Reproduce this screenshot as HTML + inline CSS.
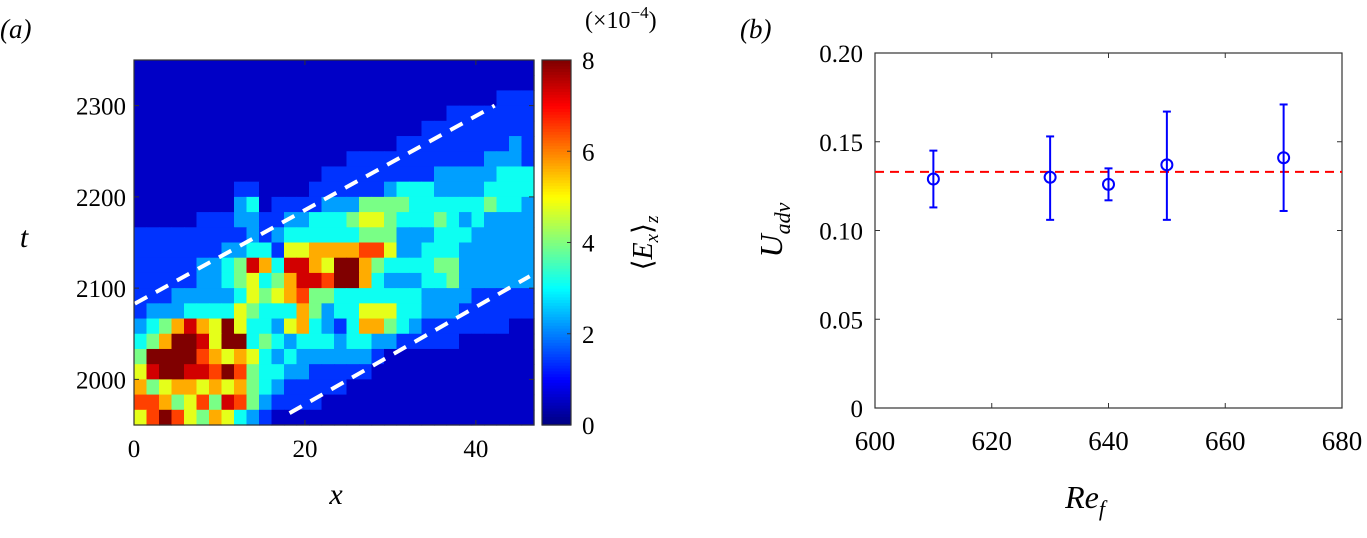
<!DOCTYPE html>
<html><head><meta charset="utf-8"><style>
body{margin:0;background:#fff;}
svg, svg text, svg tspan{font-family:"Liberation Serif","Times New Roman","DejaVu Serif",serif !important;}
</style></head><body>
<svg id="fig" width="1367" height="533" viewBox="0 0 1367 533" font-family="Liberation Serif, serif">
<text x="0" y="38" font-size="27" font-style="italic">(a)</text>
<text x="740" y="38" font-size="27" font-style="italic">(b)</text>
<g id="heat"></g>
<g id="axA"></g>
<g id="cbar"></g>
<g id="axB"></g>
</svg>
<script>
// ---- Panel (a) data ----
const heatRows = [
"00000000000000000000000000000000",
"00000000000000000000000000000000",
"00000000000000000000000000000111",
"00000000000000000000000001111111",
"00000000000000000000000111111111",
"00000000000000000000011111111121",
"00000000000000000111111111112221",
"00000000000000011111111122222333",
"00000000110000111111233322223333",
"00000000230111122244443333334332",
"00000111221122333455433343232222",
"11111111121233333344422233322222",
"11111112233155666677522333222222",
"11111223486388659964333344222222",
"11111223453468879963222334222222",
"11122222354567443333333222211111",
"12223333543336423355533222111111",
"23468659533256321366432111111100",
"34699859934323332332211111000000",
"49999765653232222221000000000000",
"58998879743322111110000000000000",
"64566565643211111000000000000000",
"77645748742111100000000000000000",
"57975465321000000000000000000000"
];
const xRange = [0, 46.8];
const tRange = [1950, 2350];
const xTicks = [0, 20, 40];
const tTicks = [2000, 2100, 2200, 2300];
const cbTicks = [0, 2, 4, 6, 8];
const upperLineX = [0.1, 42.2];
const upperLineT = [2083, 2300];
const lowerLineX = [18.2, 46.3];
const lowerLineT = [1963, 2113];
// ---- Panel (b) data ----
const reVals = [610, 630, 640, 650, 670];
const uVals = [0.129, 0.130, 0.126, 0.137, 0.141];
const uHigh = [0.145, 0.153, 0.135, 0.167, 0.171];
const uLow = [0.113, 0.106, 0.117, 0.106, 0.111];
const uMean = [0.133];
const reTicks = [600, 620, 640, 660, 680];
const uTicks = [0, 0.05, 0.10, 0.15, 0.20];
const uTickLabels = ["0", "0.05", "0.10", "0.15", "0.20"];

const NS = "http://www.w3.org/2000/svg";
const SERIF = '"Liberation Serif", serif';
function mk(tag, attrs, parent, txt){const e=document.createElementNS(NS,tag);for(const k in attrs)e.setAttribute(k,attrs[k]);if(tag==='text')e.setAttribute('font-family',SERIF);if(txt!==undefined)e.textContent=txt;parent.appendChild(e);return e;}
function jet(v){v=Math.max(0,Math.min(1,v));
 const r=Math.max(0,Math.min(1,1.5-Math.abs(4*v-3))),g=Math.max(0,Math.min(1,1.5-Math.abs(4*v-2))),b=Math.max(0,Math.min(1,1.5-Math.abs(4*v-1)));
 return `rgb(${Math.round(r*255)},${Math.round(g*255)},${Math.round(b*255)})`;}

// panel a axes
const AL=134,AR=534,AT=60,AB=425;
const sx=x=>AL+(x-xRange[0])/(xRange[1]-xRange[0])*(AR-AL);
const st=t=>AB-(t-tRange[0])/(tRange[1]-tRange[0])*(AB-AT);
const heat=document.getElementById('heat');
const nR=heatRows.length,nC=heatRows[0].length;
const cw=(AR-AL)/nC,ch=(AB-AT)/nR;
heatRows.forEach((row,i)=>{for(let j=0;j<nC;j++){
 const val=(+row[j])*0.85+0.55;
 const c=mk('rect',{x:AL+j*cw,y:AT+i*ch,width:cw+0.6,height:ch+0.6,fill:jet(val/8)},heat);
 
 
}});
const axA=document.getElementById('axA');
let l1=mk('line',{x1:sx(upperLineX[0]),y1:st(upperLineT[0]),x2:sx(upperLineX[1]),y2:st(upperLineT[1]),stroke:'#fff','stroke-width':4,'stroke-dasharray':'14 10'},axA);

let l2=mk('line',{x1:sx(lowerLineX[0]),y1:st(lowerLineT[0]),x2:sx(lowerLineX[1]),y2:st(lowerLineT[1]),stroke:'#fff','stroke-width':4,'stroke-dasharray':'14 10'},axA);

mk('rect',{x:AL,y:AT,width:AR-AL,height:AB-AT,fill:'none',stroke:'#333','stroke-width':1.2},axA);
xTicks.forEach(v=>{const x=sx(v);mk('line',{x1:x,y1:AB,x2:x,y2:AB-5,stroke:'#333'},axA);mk('line',{x1:x,y1:AT,x2:x,y2:AT+5,stroke:'#333'},axA);
 const t=mk('text',{x:x,y:AB+32,'font-size':25,'text-anchor':'middle'},axA,v);});
tTicks.forEach(v=>{const y=st(v);mk('line',{x1:AL,y1:y,x2:AL+5,y2:y,stroke:'#333'},axA);mk('line',{x1:AR,y1:y,x2:AR-5,y2:y,stroke:'#333'},axA);
 const t=mk('text',{x:AL-8,y:y+9,'font-size':25,'text-anchor':'end'},axA,v);});
let xl=mk('text',{x:336,y:504,'font-size':30,'font-style':'italic','text-anchor':'middle'},axA,'x');
let tl=mk('text',{x:24,y:247,'font-size':30,'font-style':'italic','text-anchor':'middle'},axA,'t');

// colorbar
const cb=document.getElementById('cbar');const CL=542,CR=571;
for(let k=0;k<128;k++){const y0=AB-(k+1)*(AB-AT)/128;mk('rect',{x:CL,y:y0,width:CR-CL,height:(AB-AT)/128+0.6,fill:jet((k+0.5)/128)},cb);}
mk('rect',{x:CL,y:AT,width:CR-CL,height:AB-AT,fill:'none',stroke:'#333','stroke-width':1.2},cb);
cbTicks.forEach(v=>{const y=AB-v/8*(AB-AT);mk('line',{x1:CR,y1:y,x2:CR-4,y2:y,stroke:'#333'},cb);
 const t=mk('text',{x:582,y:y+9,'font-size':25},cb,v);});
let ex=mk('text',{x:585,y:28,'font-size':24},cb);
ex.innerHTML='(×10<tspan dy="-10" font-size="17">−4</tspan><tspan dy="10">)</tspan>';
let cl=mk('text',{transform:'translate(652,243) rotate(-90)','font-size':28,'text-anchor':'middle'},cb);
cl.innerHTML='⟨<tspan font-style="italic">E</tspan><tspan font-style="italic" font-size="19" dy="6">x</tspan><tspan dy="-6">⟩</tspan><tspan font-style="italic" font-size="19" dy="6">z</tspan>';

// panel b
const BL=875,BR=1342,BT=53,BB=408;
const bx=v=>BL+(v-reTicks[0])/(reTicks[reTicks.length-1]-reTicks[0])*(BR-BL);
const by=v=>BB-(v-uTicks[0])/(uTicks[uTicks.length-1]-uTicks[0])*(BB-BT);
const axB=document.getElementById('axB');
mk('rect',{x:BL,y:BT,width:BR-BL,height:BB-BT,fill:'none',stroke:'#333','stroke-width':1.2},axB);
reTicks.forEach(v=>{const x=bx(v);mk('line',{x1:x,y1:BB,x2:x,y2:BB-5,stroke:'#333'},axB);mk('line',{x1:x,y1:BT,x2:x,y2:BT+5,stroke:'#333'},axB);
 const t=mk('text',{x:x,y:BB+42,'font-size':27,'text-anchor':'middle'},axB,v);});
uTicks.forEach((v,i)=>{const y=by(v);mk('line',{x1:BL,y1:y,x2:BL+5,y2:y,stroke:'#333'},axB);mk('line',{x1:BR,y1:y,x2:BR-5,y2:y,stroke:'#333'},axB);
 const t=mk('text',{x:BL-12,y:y+9,'font-size':25,'text-anchor':'end'},axB,uTickLabels[i]);});
let ml=mk('line',{x1:BL,y1:by(uMean[0]),x2:BR,y2:by(uMean[0]),stroke:'#f00','stroke-width':2,'stroke-dasharray':'9 6'},axB);

reVals.forEach((r,i)=>{const x=bx(r);
 const g=mk('g',{},axB);
 mk('line',{x1:x,y1:by(uHigh[i]),x2:x,y2:by(uLow[i]),stroke:'#00f','stroke-width':2},g);
 mk('line',{x1:x-4,y1:by(uHigh[i]),x2:x+4,y2:by(uHigh[i]),stroke:'#00f','stroke-width':2},g);
 mk('line',{x1:x-4,y1:by(uLow[i]),x2:x+4,y2:by(uLow[i]),stroke:'#00f','stroke-width':2},g);
 mk('circle',{cx:x,cy:by(uVals[i]),r:5.5,fill:'none',stroke:'#00f','stroke-width':2},g);});
let rl=mk('text',{x:1085,y:508,'font-size':32,'font-style':'italic','text-anchor':'middle'},axB);
rl.innerHTML='Re<tspan font-size="22" dy="8">f</tspan>';
let ul=mk('text',{transform:'translate(782,230) rotate(-90)','font-size':32,'font-style':'italic','text-anchor':'middle'},axB);
ul.innerHTML='U<tspan font-size="22" dy="8">adv</tspan>';
</script>
</body></html>
